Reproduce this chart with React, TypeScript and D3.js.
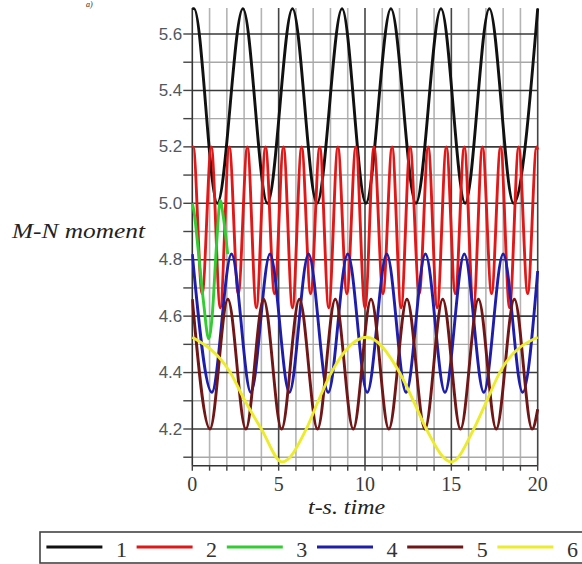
import React from "react";
import * as d3 from "d3";

// ---- series (extrema and a few intermediate points) ----
const seriesNames = ["1", "2", "3", "4", "5", "6"];
const seriesColors = ["#111111", "#e01818", "#33cc33", "#1e1eaa", "#701616", "#ecec2c"];

const s1Time = [0, 0.1, 1.45, 2.93, 4.35, 5.8, 7.22, 8.67, 10.05, 11.5, 12.95, 14.4, 15.8, 17.2, 18.6, 20];
const s1Value = [5.69, 5.69, 5.0, 5.69, 5.0, 5.69, 5.0, 5.69, 5.0, 5.69, 5.0, 5.69, 5.0, 5.69, 5.0, 5.69];

const s2Time = [0, 0.05, 0.57, 1.1, 1.62, 2.14, 2.66, 3.19, 3.71, 4.24, 4.76, 5.28, 5.8, 6.33, 6.85, 7.38, 7.9, 8.43, 8.95, 9.47, 10.0, 10.52, 11.04, 11.57, 12.09, 12.61, 13.14, 13.66, 14.18, 14.71, 15.23, 15.75, 16.28, 16.8, 17.33, 17.85, 18.37, 18.9, 19.42, 19.94, 20];
const s2Value = [5.198, 5.2, 4.68, 5.2, 4.63, 5.2, 4.68, 5.2, 4.63, 5.2, 4.68, 5.2, 4.63, 5.2, 4.68, 5.2, 4.63, 5.2, 4.68, 5.2, 4.63, 5.2, 4.68, 5.2, 4.63, 5.2, 4.68, 5.2, 4.63, 5.2, 4.68, 5.2, 4.63, 5.2, 4.68, 5.2, 4.63, 5.2, 4.68, 5.2, 5.19];

const s3Time = [0, 0.1, 0.35, 0.65, 0.95, 1.15, 1.4, 1.62, 1.8, 2.05];
const s3Value = [5.0, 4.97, 4.83, 4.65, 4.52, 4.6, 4.85, 5.01, 4.95, 4.82];

const s4Time = [0, 1.13, 2.27, 3.39, 4.5, 5.62, 6.73, 7.87, 9.0, 10.13, 11.26, 12.38, 13.5, 14.63, 15.75, 16.88, 18.0, 19.13, 20];
const s4Value = [4.82, 4.33, 4.82, 4.33, 4.82, 4.33, 4.82, 4.33, 4.82, 4.33, 4.82, 4.33, 4.82, 4.33, 4.82, 4.33, 4.82, 4.33, 4.76];

const s5Time = [0, 1.02, 2.06, 3.1, 4.13, 5.17, 6.2, 7.25, 8.28, 9.32, 10.35, 11.38, 12.43, 13.47, 14.5, 15.53, 16.57, 17.6, 18.65, 19.68, 20];
const s5Value = [4.66, 4.2, 4.66, 4.2, 4.66, 4.2, 4.66, 4.2, 4.66, 4.2, 4.66, 4.2, 4.66, 4.2, 4.66, 4.2, 4.66, 4.2, 4.66, 4.2, 4.27];

const s6Time = [0, 2.2, 3.05, 4.0, 5.2, 6.6, 7.3, 8.05, 10.1, 12.0, 12.8, 13.55, 15.0, 16.3, 17.05, 17.8, 20];
const s6Value = [4.525, 4.4, 4.3, 4.2, 4.083, 4.2, 4.3, 4.4, 4.525, 4.4, 4.3, 4.2, 4.083, 4.2, 4.3, 4.4, 4.525];

// ---- axes ----
const yTickLabels = ["4.2", "4.4", "4.6", "4.8", "5.0", "5.2", "5.4", "5.6"];
const yMinorTicks = [4.1, 4.3, 4.5, 4.7, 4.9, 5.1, 5.3, 5.5];
const xTickLabels = ["0", "5", "10", "15", "20"];
const xGridTicks = [1, 2, 3, 4, 6, 7, 8, 9, 11, 12, 13, 14, 16, 17, 18, 19];
const xMajorGrid = [5, 10, 15, 20];
const yLabel = "M-N moment";
const xLabel = "t-s. time";
const topFragment = "a)";

export default function App() {
  const x = d3.scaleLinear().domain([0, 20]).range([192.3, 537.7]);
  const y = d3.scaleLinear().domain([4.2, 5.6]).range([429, 34]);
  const yBottom = y(4.07);
  const yTop = y(5.692);
  const x0 = x(0);
  const x1 = x(20);

  const line = d3
    .line<[number, number]>()
    .x((d) => x(d[0]))
    .y((d) => y(d[1]))
    .curve(d3.curveMonotoneX);

  const series: [number[], number[]][] = [
    [s1Time, s1Value],
    [s2Time, s2Value],
    [s3Time, s3Value],
    [s4Time, s4Value],
    [s5Time, s5Value],
    [s6Time, s6Value],
  ];

  const allYTicks = [...yTickLabels.map(Number), ...yMinorTicks];

  return (
    <svg
      width={582}
      height={564}
      style={{ position: "absolute", left: 0, top: 0, background: "#fff" }}
    >
      <defs>
        <clipPath id="plotclip">
          <rect x={x0 - 1} y={0} width={x1 - x0 + 3} height={yBottom} />
        </clipPath>
      </defs>

      {/* title remnant at the top edge */}
      <text x={86} y={7} fontFamily="Liberation Serif" fontStyle="italic" fontSize={8} fill="#222">
        {topFragment}
      </text>

      {/* vertical grid */}
      {xGridTicks.map((t) => (
        <line key={"vg" + t} x1={x(t)} x2={x(t)} y1={yTop} y2={yBottom} stroke="#b4b4b4" strokeWidth={1.6} />
      ))}
      {/* horizontal minor grid */}
      {yMinorTicks.map((v) => (
        <line key={"hm" + v} x1={x0} x2={x1} y1={y(v)} y2={y(v)} stroke="#a8a8a8" strokeWidth={1.4} />
      ))}
      {/* horizontal major grid */}
      {yTickLabels.map((s) => (
        <line key={"hM" + s} x1={x0} x2={x1} y1={y(+s)} y2={y(+s)} stroke="#3a3a3a" strokeWidth={1.6} />
      ))}
      {xMajorGrid.map((t) => (
        <line key={"vM" + t} x1={x(t)} x2={x(t)} y1={yTop} y2={yBottom} stroke="#444" strokeWidth={1.6} />
      ))}

      {/* axes */}
      <line x1={x0} x2={x0} y1={yTop} y2={yBottom} stroke="#333" strokeWidth={1.6} />
      <line x1={x0} x2={x1} y1={yBottom} y2={yBottom} stroke="#333" strokeWidth={1.6} />
      {allYTicks.map((v) => (
        <line key={"yt" + v} x1={x0 - 9} x2={x0} y1={y(v)} y2={y(v)} stroke="#444" strokeWidth={1.4} />
      ))}
      {d3.range(0, 21).map((t) => (
        <line key={"xt" + t} x1={x(t)} x2={x(t)} y1={yBottom} y2={yBottom + 5} stroke="#444" strokeWidth={1.4} />
      ))}
      {yTickLabels.map((s) => (
        <text
          key={"yl" + s}
          x={x0 - 10}
          y={y(+s)}
          textAnchor="end"
          dominantBaseline="central"
          fontFamily="Liberation Sans"
          fontSize={17}
          fill="#505860"
        >
          {s}
        </text>
      ))}
      {xTickLabels.map((s) => (
        <text
          key={"xl" + s}
          x={x(+s)}
          y={491}
          textAnchor="middle"
          fontFamily="Liberation Serif"
          fontSize={20}
          fill="#3a3a3a"
        >
          {s}
        </text>
      ))}

      {/* axis titles */}
      <text
        x={12}
        y={238}
        fontFamily="Liberation Serif"
        fontStyle="italic"
        fontSize={20}
        fill="#222"
        textLength={133}
        lengthAdjust="spacingAndGlyphs"
      >
        {yLabel}
      </text>
      <text
        x={308}
        y={514}
        fontFamily="Liberation Serif"
        fontStyle="italic"
        fontSize={20}
        fill="#222"
        textLength={77}
        lengthAdjust="spacingAndGlyphs"
      >
        {xLabel}
      </text>

      {/* curves */}
      <g clipPath="url(#plotclip)">
        {series.map(([ts, vs], i) => (
          <path
            key={"s" + i}
            d={line(ts.map((t, j) => [t, vs[j]] as [number, number])) || ""}
            fill="none"
            stroke={seriesColors[i]}
            strokeWidth={2.9}
            strokeLinejoin="round"
          />
        ))}
      </g>

      {/* legend */}
      <rect x={40} y={532} width={560} height={31} fill="none" stroke="#444" strokeWidth={1.6} />
      {seriesNames.map((n, i) => {
        const lx = 46.4 + i * 90.2;
        return (
          <g key={"lg" + n}>
            <line x1={lx} x2={lx + 56} y1={547} y2={547} stroke={seriesColors[i]} strokeWidth={3} />
            <text
              x={lx + 75}
              y={557}
              textAnchor="middle"
              fontFamily="Liberation Serif"
              fontSize={22}
              fill="#333"
            >
              {n}
            </text>
          </g>
        );
      })}
    </svg>
  );
}
